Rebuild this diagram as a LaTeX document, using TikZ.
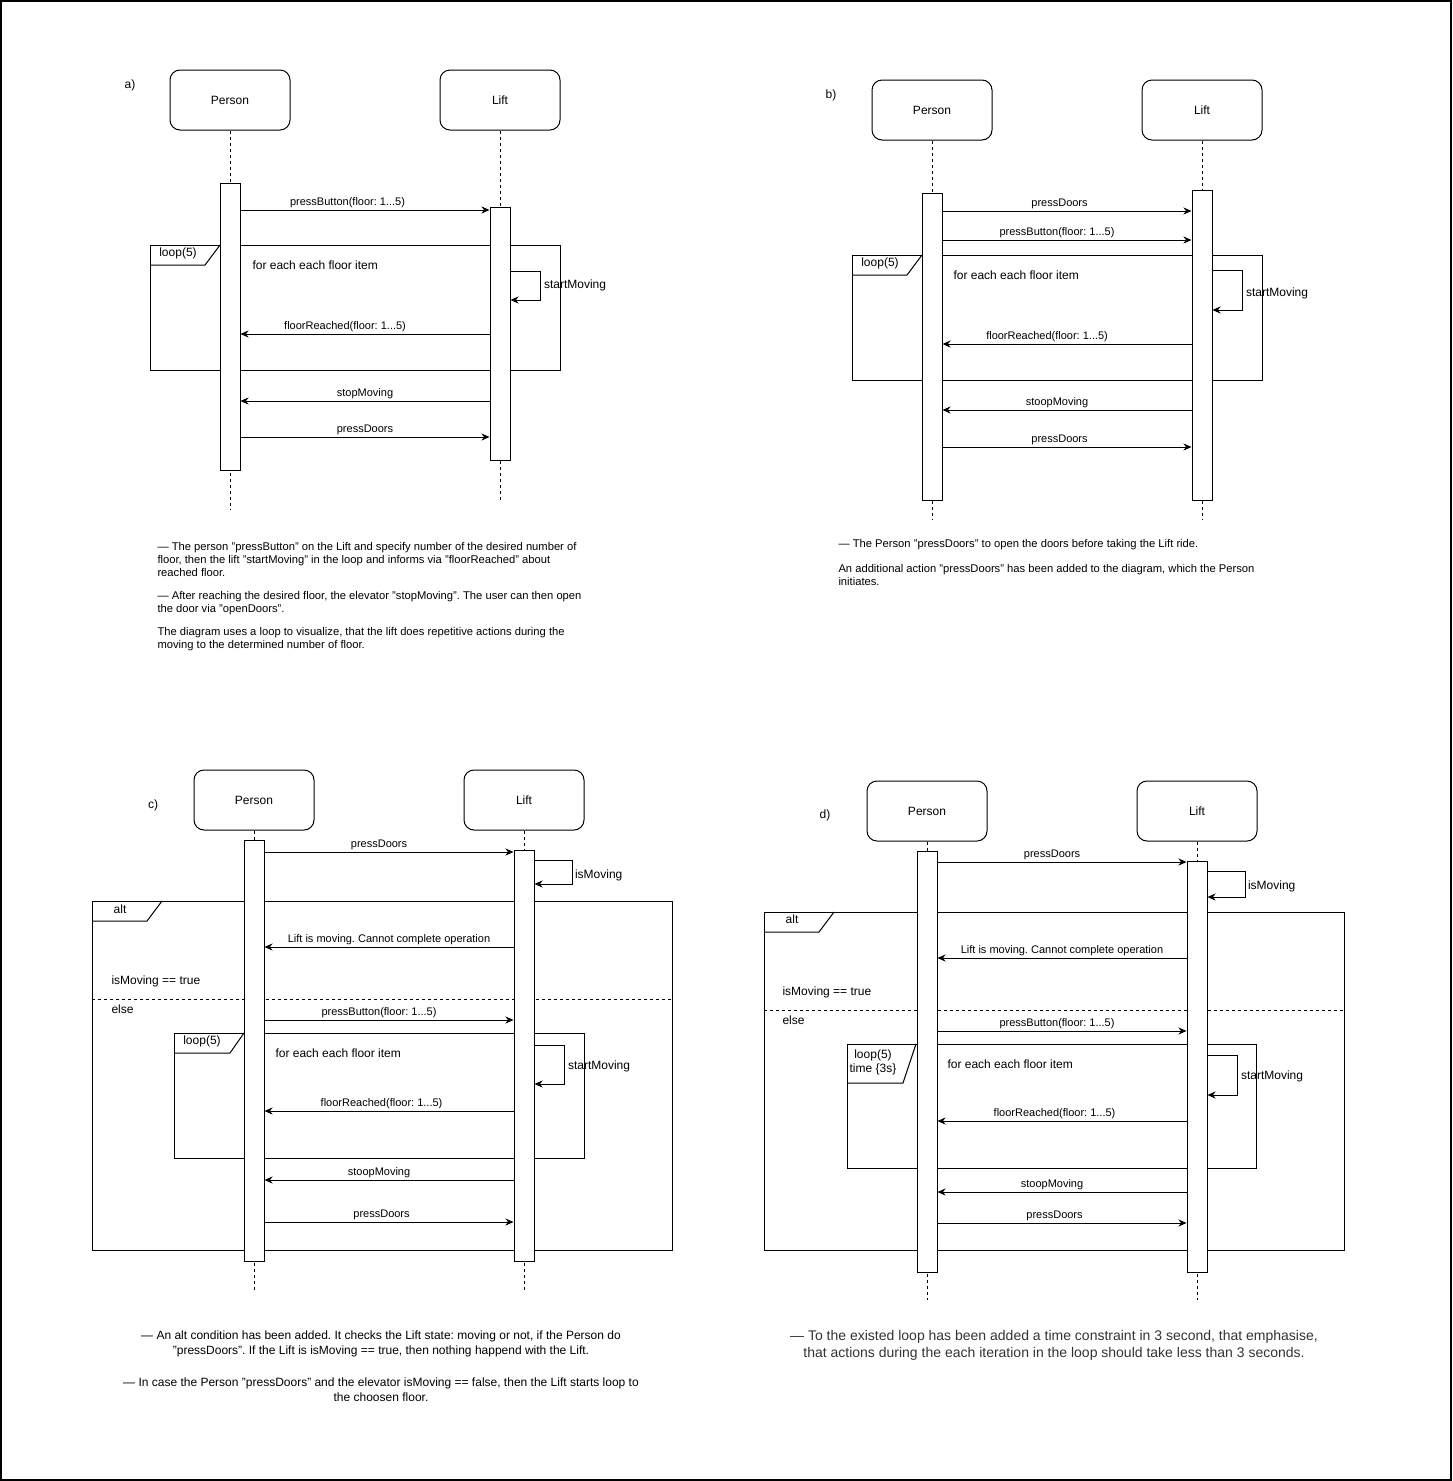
\documentclass[tikz,border=0pt]{standalone}
\usepackage{fontspec}
\setmainfont{Liberation Sans}
\frenchspacing
\usetikzlibrary{arrows.meta}
\tikzstyle{actor} = [rectangle, rounded corners=10pt, minimum width=120pt, minimum height=60pt, text centered, draw=black, fill=white, font=\fontsize{12}{14}\selectfont]
\tikzstyle{activation} = [rectangle, minimum width=20pt, inner sep=0pt, draw=black, fill=white]
\tikzstyle{lifeline} = [dashed]
\tikzstyle{arrow} = [-{Stealth[length=8pt, width=7pt, inset=2.5pt]}]
\tikzstyle{msglabel} = [above, inner sep=2pt, font=\fontsize{11}{13}\selectfont]
\tikzstyle{frametext} = [inner sep=0pt, font=\fontsize{12}{14}\selectfont]
\tikzstyle{notetext} = [inner sep=0pt, font=\fontsize{11.2}{13}\selectfont]

\begin{document}
\begin{tikzpicture}[x=1pt, y=-1pt, line width=1pt]

        \useasboundingbox (0,0) rectangle (1452,1481);
        \draw [line width=1.5pt] (1,1) rectangle (1451,1480);

        % ---------- a) ----------
        \node (labA) [frametext] at (130,85) {a)};
        \node (pA) [actor] at (230,100) {Person};
        \node (lA) [actor] at (500,100) {Lift};
        \draw [lifeline] (pA.south) -- (pA.south |- 0,510);
        \draw [lifeline] (lA.south) -- (lA.south |- 0,500);

        \draw (150,245) rectangle (560,370);
        \draw (150,265) -- (205,265) -- (220,245);
        \node (loopA) [frametext] at (178,253) {loop(5)};
        \node (forA) [frametext, anchor=west] at (252,265) {for each each floor item};

        \node (pAact) [activation, minimum height=287pt] at (230,326.5) {};
        \node (lAact) [activation, minimum height=253pt] at (500,333.5) {};

        \draw [arrow] (pAact.east |- 0,210) -- node[msglabel, pos=0.43] {pressButton(floor: 1...5)} (lAact.west |- 0,210);
        \draw [arrow] (lAact.east |- 0,271) -- ++(30,0) |- node[frametext, pos=0.25, anchor=west, xshift=3pt] {startMoving} (lAact.east |- 0,300);
        \draw [arrow] (lAact.west |- 0,334) -- node[msglabel, pos=0.58] {floorReached(floor: 1...5)} (pAact.east |- 0,334);
        \draw [arrow] (lAact.west |- 0,401) -- node[msglabel] {stopMoving} (pAact.east |- 0,401);
        \draw [arrow] (pAact.east |- 0,437) -- node[msglabel] {pressDoors} (lAact.west |- 0,437);

        \node (noteA) [notetext, anchor=north west, align=left] at (157,542) {— The person "pressButton" on the Lift and specify number of the desired number of\\
            floor, then the lift "startMoving" in the loop and informs via "floorReached" about\\
            reached floor.\\[10pt]
            — After reaching the desired floor, the elevator "stopMoving". The user can then open\\
            the door via "openDoors".\\[10pt]
            The diagram uses a loop to visualize, that the lift does repetitive actions during the\\
            moving to the determined number of floor.};

        % ---------- b) ----------
        \node (labB) [frametext] at (831,95) {b)};
        \node (pB) [actor] at (932,110) {Person};
        \node (lB) [actor] at (1202,110) {Lift};
        \draw [lifeline] (pB.south) -- (pB.south |- 0,520);
        \draw [lifeline] (lB.south) -- (lB.south |- 0,520);

        \draw (852,255) rectangle (1262,380);
        \draw (852,275) -- (907,275) -- (922,255);
        \node (loopB) [frametext] at (880,263) {loop(5)};
        \node (forB) [frametext, anchor=west] at (953,275) {for each each floor item};

        \node (pBact) [activation, minimum height=307pt] at (932,346.5) {};
        \node (lBact) [activation, minimum height=310pt] at (1202,345) {};

        \draw [arrow] (pBact.east |- 0,211) -- node[msglabel, pos=0.47] {pressDoors} (lBact.west |- 0,211);
        \draw [arrow] (pBact.east |- 0,240) -- node[msglabel, pos=0.46] {pressButton(floor: 1...5)} (lBact.west |- 0,240);
        \draw [arrow] (lBact.east |- 0,270) -- ++(30,0) |- node[frametext, pos=0.25, anchor=west, xshift=3pt, yshift=-3pt] {startMoving} (lBact.east |- 0,310);
        \draw [arrow] (lBact.west |- 0,344) -- node[msglabel, pos=0.58] {floorReached(floor: 1...5)} (pBact.east |- 0,344);
        \draw [arrow] (lBact.west |- 0,410) -- node[msglabel, pos=0.54] {stoopMoving} (pBact.east |- 0,410);
        \draw [arrow] (pBact.east |- 0,447) -- node[msglabel, pos=0.47] {pressDoors} (lBact.west |- 0,447);

        \node (noteB) [notetext, anchor=north west, align=left] at (838,539) {— The Person "pressDoors" to open the doors before taking the Lift ride.\\[12pt]
            An additional action "pressDoors" has been added to the diagram, which the Person\\
            initiates.};

        % ---------- c) ----------
        \node (labC) [frametext] at (153,805) {c)};
        \node (pC) [actor] at (254,800) {Person};
        \node (lC) [actor] at (524,800) {Lift};
        \draw [lifeline] (pC.south) -- (pC.south |- 0,1290);
        \draw [lifeline] (lC.south) -- (lC.south |- 0,1290);

        % alt
        \draw (92,901) rectangle (672,1250);
        \draw (92,921) -- (147,921) -- (162,901);
        \node (altC) [frametext] at (120,909) {alt};
        \node (trueC) [frametext, anchor=west] at (111,981) {isMoving == true};
        \draw [dashed] (92,999) -- (672,999);
        \node (elseC) [frametext, anchor=west] at (111,1009) {else};
        % loop
        \draw (174,1033) rectangle (584,1158);
        \draw (174,1053) -- (230,1053) -- (244,1033);
        \node (loopC) [frametext] at (202,1041) {loop(5)};
        \node (forC) [frametext, anchor=west] at (275,1053) {for each each floor item};

        \node (pCact) [activation, minimum height=421pt] at (254,1050.5) {};
        \node (lCact) [activation, minimum height=411pt] at (524,1055.5) {};

        \draw [arrow] (pCact.east |- 0,852) -- node[msglabel, pos=0.46] {pressDoors} (lCact.west |- 0,852);
        \draw [arrow] (lCact.east |- 0,860) -- ++(38,0) |- node[frametext, pos=0.25, anchor=west, xshift=2pt, yshift=-3pt] {isMoving} (lCact.east |- 0,884);
        \draw [arrow] (lCact.west |- 0,947) -- node[msglabel] {Lift is moving. Cannot complete operation} (pCact.east |- 0,947);
        \draw [arrow] (pCact.east |- 0,1020) -- node[msglabel, pos=0.46] {pressButton(floor: 1...5)} (lCact.west |- 0,1020);
        \draw [arrow] (lCact.east |- 0,1045) -- ++(30,0) |- node[frametext, pos=0.25, anchor=west, xshift=3pt, yshift=-2pt] {startMoving} (lCact.east |- 0,1084);
        \draw [arrow] (lCact.west |- 0,1111) -- node[msglabel, pos=0.53] {floorReached(floor: 1...5)} (pCact.east |- 0,1111);
        \draw [arrow] (lCact.west |- 0,1180) -- node[msglabel, pos=0.54] {stoopMoving} (pCact.east |- 0,1180);
        \draw [arrow] (pCact.east |- 0,1222) -- node[msglabel, pos=0.47] {pressDoors} (lCact.west |- 0,1222);

        \node (noteC) [notetext, font=\fontsize{12}{15}\selectfont, anchor=north, align=center] at (381,1330) {— An alt condition has been added. It checks the Lift state: moving or not, if the Person do\\
            "pressDoors". If the Lift is isMoving == true, then nothing happend with the Lift.\\[17pt]
            — In case the Person "pressDoors" and the elevator isMoving == false, then the Lift starts loop to\\
            the choosen floor.};

        % ---------- d) ----------
        \node (labD) [frametext] at (825,815) {d)};
        \node (pD) [actor] at (927,811) {Person};
        \node (lD) [actor] at (1197,811) {Lift};
        \draw [lifeline] (pD.south) -- (pD.south |- 0,1300);
        \draw [lifeline] (lD.south) -- (lD.south |- 0,1300);

        % alt
        \draw (764,912) rectangle (1344,1250);
        \draw (764,932) -- (819,932) -- (834,912);
        \node (altD) [frametext] at (792,919) {alt};
        \node (trueD) [frametext, anchor=west] at (782,992) {isMoving == true};
        \draw [dashed] (764,1010) -- (1344,1010);
        \node (elseD) [frametext, anchor=west] at (782,1020) {else};
        % loop with time constraint
        \draw (847,1044) rectangle (1256,1168);
        \draw (847,1083) -- (903,1083) -- (916,1044);
        \node (loopD) [frametext, align=center] at (873,1062) {loop(5)\\time \{3s\}};
        \node (forD) [frametext, anchor=west] at (947,1064) {for each each floor item};

        \node (pDact) [activation, minimum height=421pt] at (927,1061.5) {};
        \node (lDact) [activation, minimum height=411pt] at (1197,1066.5) {};

        \draw [arrow] (pDact.east |- 0,862) -- node[msglabel, pos=0.46] {pressDoors} (lDact.west |- 0,862);
        \draw [arrow] (lDact.east |- 0,871) -- ++(38,0) |- node[frametext, pos=0.25, anchor=west, xshift=2pt, yshift=-2pt] {isMoving} (lDact.east |- 0,897);
        \draw [arrow] (lDact.west |- 0,958) -- node[msglabel] {Lift is moving. Cannot complete operation} (pDact.east |- 0,958);
        \draw [arrow] (pDact.east |- 0,1031) -- node[msglabel, pos=0.48] {pressButton(floor: 1...5)} (lDact.west |- 0,1031);
        \draw [arrow] (lDact.east |- 0,1055) -- ++(30,0) |- node[frametext, pos=0.25, anchor=west, xshift=3pt, yshift=-1pt] {startMoving} (lDact.east |- 0,1095);
        \draw [arrow] (lDact.west |- 0,1121) -- node[msglabel, pos=0.53] {floorReached(floor: 1...5)} (pDact.east |- 0,1121);
        \draw [arrow] (lDact.west |- 0,1192) -- node[msglabel, pos=0.54] {stoopMoving} (pDact.east |- 0,1192);
        \draw [arrow] (pDact.east |- 0,1223) -- node[msglabel, pos=0.47] {pressDoors} (lDact.west |- 0,1223);

        \node (noteD) [notetext, font=\fontsize{14}{17}\selectfont, text=black!80, anchor=north, align=center] at (1054,1330) {— To the existed loop has been added a time constraint in 3 second, that emphasise,\\
            that actions during the each iteration in the loop should take less than 3 seconds.};

\end{tikzpicture}
\end{document}
